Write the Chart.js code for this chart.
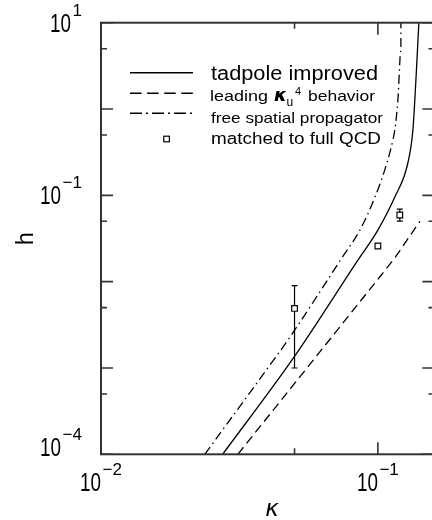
<!DOCTYPE html>
<html>

<head>
    <title>h vs kappa</title>
    <script src="https://cdn.jsdelivr.net/npm/chart.js"></script>
    <style>
        body {
            margin: 0;
            background: #fff;
        }

        .chart-container {
            width: 432px;
            height: 520px;
            overflow: hidden;
        }
    </style>
</head>

<body>

    <div class="chart-container">
        <canvas id="hChart" width="460" height="520"></canvas>
    </div>

    <script>
        // tadpole improved (solid)
        const tadpoleKappa = [0.0275, 0.0494, 0.0847, 0.100, 0.1151, 0.1283, 0.1338, 0.1372, 0.1406];
        const tadpoleH = [1.0e-4, 1.29e-3, 0.0178, 0.0396, 0.0955, 0.237, 0.571, 2.17, 10];

        // leading kappa_u^4 behavior (dashed)
        const leadingKappa = [0.0312, 0.0592, 0.1017, 0.1151, 0.1418];
        const leadingH = [1.0e-4, 1.30e-3, 0.0114, 0.0188, 0.0500];

        // free spatial propagator (dash-dot)
        const freeKappa = [0.0237, 0.0425, 0.0473, 0.0741, 0.0861, 0.0976, 0.1078, 0.1133, 0.1151, 0.1181, 0.1211, 0.1211];
        const freeH = [1.0e-4, 1.30e-3, 2.10e-3, 0.0188, 0.0396, 0.0955, 0.237, 0.438, 0.571, 1.27, 4.83, 10];

        // matched to full QCD (squares with error bars)
        const matchedKappa = [0.05, 0.10, 0.12];
        const matchedH = [4.9e-3, 0.0259, 0.0592];
        const matchedLo = [1.0e-3, 0.0259, 0.0504];
        const matchedHi = [9.0e-3, 0.0259, 0.0692];

        // axes
        const xMajorTicks = [0.01, 0.1];
        const xMinorTicks = [0.05];
        const yMajorTicks = [1e-4, 1e-3, 1e-2, 1e-1, 1, 10];
        const yMinorTicks = [5e-4, 5e-3, 5e-2, 0.5, 5];
        const xTickLabels = [[0.01, '\u22122'], [0.1, '\u22121']];
        const yTickLabels = [[10, '1'], [0.1, '\u22121'], [1e-4, '\u22124']];

        const legendLabels = ['tadpole improved', 'leading', 'behavior', 'free spatial propagator', 'matched to full QCD'];

        const FONT = '"Liberation Sans", Arial, sans-serif';
        const DASHED = [9, 5];
        const DASHDOT = [9, 4, 1.5, 4];

        const ctx = document.getElementById('hChart').getContext('2d');

        function toPoints(xs, ys) {
            return xs.map((x, i) => ({ x: x, y: ys[i] }));
        }

        // draw text stretched to a given width
        function fitText(c, str, x, y, font, width) {
            c.font = font;
            const w = c.measureText(str).width;
            c.save();
            c.translate(x, y);
            c.scale(width / w, 1);
            c.textAlign = 'left';
            c.textBaseline = 'alphabetic';
            c.fillText(str, 0, 0);
            c.restore();
        }

        function powerLabel(c, exp, x, yMid, align) {
            c.font = '17px ' + FONT;
            const ew = c.measureText(exp).width;
            const bw = 21, gap = 1.5;
            const total = bw + gap + ew;
            const left = align === 'right' ? x - total : x - total / 2;
            fitText(c, '10', left, yMid + 9, '25px ' + FONT, bw);
            c.font = '17px ' + FONT;
            c.textAlign = 'left';
            c.textBaseline = 'alphabetic';
            c.fillText(exp, left + bw + gap, yMid - 7);
        }

        const framePlugin = {
            id: 'frame',
            beforeDatasetsDraw: chart => {
                const c = chart.ctx;
                const xs = chart.scales.x, ys = chart.scales.y;
                c.save();
                c.strokeStyle = '#000';
                c.lineWidth = 1.2;
                matchedKappa.forEach((k, i) => {
                    if (matchedHi[i] <= matchedLo[i]) return;
                    const px = xs.getPixelForValue(k);
                    const top = ys.getPixelForValue(matchedHi[i]);
                    const bot = ys.getPixelForValue(matchedLo[i]);
                    c.beginPath();
                    c.moveTo(px, top); c.lineTo(px, bot);
                    c.moveTo(px - 3, top); c.lineTo(px + 3, top);
                    c.moveTo(px - 3, bot); c.lineTo(px + 3, bot);
                    c.stroke();
                });
                c.restore();
            },
            afterDraw: chart => {
                const c = chart.ctx;
                const a = chart.chartArea;
                const xs = chart.scales.x, ys = chart.scales.y;
                c.save();

                // frame
                c.strokeStyle = '#333';
                c.lineWidth = 2;
                c.strokeRect(a.left, a.top, a.right - a.left, a.bottom - a.top);

                // inward ticks on all four sides
                c.lineWidth = 1.6;
                c.beginPath();
                const xTick = (v, len) => {
                    const px = xs.getPixelForValue(v);
                    c.moveTo(px, a.bottom); c.lineTo(px, a.bottom - len);
                    c.moveTo(px, a.top); c.lineTo(px, a.top + len);
                };
                const yTick = (v, len) => {
                    const py = ys.getPixelForValue(v);
                    c.moveTo(a.left, py); c.lineTo(a.left + len, py);
                    c.moveTo(a.right, py); c.lineTo(a.right - len, py);
                };
                xMajorTicks.forEach(v => xTick(v, 12));
                xMinorTicks.forEach(v => xTick(v, 6));
                yMajorTicks.forEach(v => yTick(v, 12));
                yMinorTicks.forEach(v => yTick(v, 6));
                c.stroke();

                // tick labels
                c.fillStyle = '#000';
                xTickLabels.forEach(([v, exp]) => {
                    powerLabel(c, exp, xs.getPixelForValue(v), 482, 'center');
                });
                yTickLabels.forEach(([v, exp]) => {
                    let py = ys.getPixelForValue(v);
                    if (v === ys.min) py -= 7;
                    powerLabel(c, exp, 82, py, 'right');
                });

                // axis titles
                c.save();
                c.translate(33, (a.top + a.bottom) / 2);
                c.rotate(-Math.PI / 2);
                c.font = '23px ' + FONT;
                c.textAlign = 'center';
                c.textBaseline = 'alphabetic';
                c.fillText('h', 0, 0);
                c.restore();

                c.font = 'italic 23px "DejaVu Sans", sans-serif';
                c.textAlign = 'center';
                c.textBaseline = 'alphabetic';
                c.fillText('\u03ba', 272, 516);

                // legend
                const lx0 = 130, lx1 = 193, tx = 211;
                c.strokeStyle = '#000';
                c.lineWidth = 1.4;
                const sample = (y, dash) => {
                    c.setLineDash(dash);
                    c.beginPath();
                    c.moveTo(lx0, y); c.lineTo(lx1, y);
                    c.stroke();
                };
                sample(72.7, []);
                sample(93.3, [11.5, 5.6]);
                sample(113.3, [12, 4, 2, 4]);
                c.setLineDash([]);
                c.lineWidth = 1.2;
                c.fillStyle = '#fff';
                c.fillRect(163.8, 136.2, 5.6, 5.6);
                c.strokeRect(163.8, 136.2, 5.6, 5.6);
                c.fillStyle = '#000';

                fitText(c, legendLabels[0], tx, 80, '20px ' + FONT, 167);

                fitText(c, legendLabels[1], 210, 100.7, '15px ' + FONT, 58);
                fitText(c, '\u03ba', 274, 100.7, 'bold italic 17px "DejaVu Sans", sans-serif', 13);
                c.font = '12px ' + FONT;
                c.textAlign = 'left';
                c.fillText('u', 286.5, 105.5);
                c.font = '11px ' + FONT;
                c.fillText('4', 295, 95);
                fitText(c, legendLabels[2], 308, 100.7, '15px ' + FONT, 67);

                fitText(c, legendLabels[3], tx, 123.3, '15px ' + FONT, 172);
                fitText(c, legendLabels[4], tx, 143.5, '16px ' + FONT, 170);

                c.restore();
            }
        };

        const hChart = new Chart(ctx, {
            type: 'scatter',
            data: {
                datasets: [
                    {
                        label: 'tadpole improved',
                        data: toPoints(tadpoleKappa, tadpoleH),
                        showLine: true,
                        borderColor: '#000',
                        borderWidth: 1.3,
                        pointRadius: 0,
                        cubicInterpolationMode: 'monotone'
                    },
                    {
                        label: 'leading kappa_u^4 behavior',
                        data: toPoints(leadingKappa, leadingH),
                        showLine: true,
                        borderColor: '#000',
                        borderWidth: 1.3,
                        borderDash: DASHED,
                        pointRadius: 0
                    },
                    {
                        label: 'free spatial propagator',
                        data: toPoints(freeKappa, freeH),
                        showLine: true,
                        borderColor: '#000',
                        borderWidth: 1.3,
                        borderDash: DASHDOT,
                        pointRadius: 0,
                        cubicInterpolationMode: 'monotone'
                    },
                    {
                        label: 'matched to full QCD',
                        data: toPoints(matchedKappa, matchedH),
                        showLine: false,
                        pointStyle: 'rect',
                        pointRadius: 4,
                        borderColor: '#000',
                        borderWidth: 1.2,
                        backgroundColor: '#fff'
                    }
                ]
            },
            options: {
                responsive: false,
                animation: false,
                layout: {
                    padding: { left: 101, top: 22.7, right: 25.6, bottom: 65.7 }
                },
                scales: {
                    x: { type: 'logarithmic', min: 0.01, max: 0.16, display: false },
                    y: { type: 'logarithmic', min: 1e-4, max: 10, display: false }
                },
                plugins: {
                    legend: { display: false },
                    tooltip: { enabled: false }
                }
            },
            plugins: [framePlugin]
        });
    </script>
</body>

</html>
